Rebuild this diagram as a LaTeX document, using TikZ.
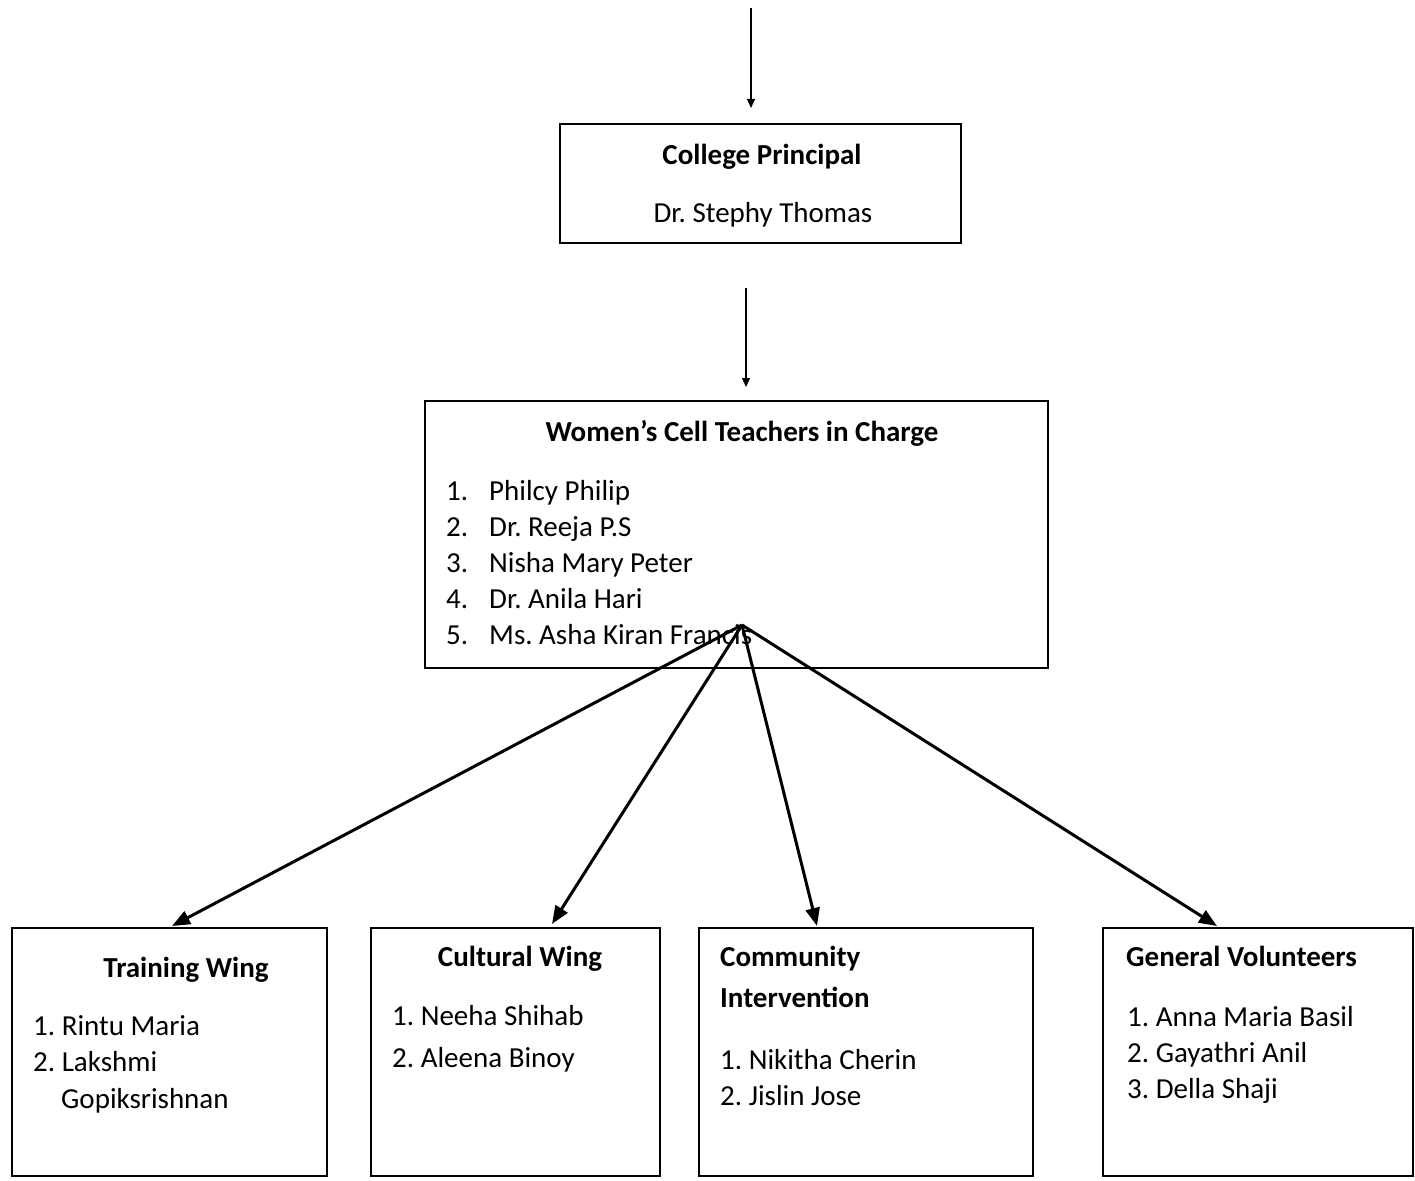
\documentclass[tikz,border=0pt]{standalone}
\usepackage{fontspec}
\setmainfont{Carlito}
\usetikzlibrary{arrows.meta,calc}
\frenchspacing
\begin{document}
\begin{tikzpicture}[x=1pt,y=-1pt,
  box/.style={draw,line width=2pt,inner sep=0pt,rectangle},
  txt/.style={inner sep=0pt,anchor=base west,font=\fontsize{29}{35}\selectfont},
  ctxt/.style={txt,anchor=base},
  hd/.style={txt,font=\fontsize{29}{35}\selectfont\bfseries},
  chd/.style={hd,anchor=base},
  thinarr/.style={line width=1.2pt,-{Triangle[width=8pt,length=9pt]}},
  thickarr/.style={line width=3pt,-{Triangle[width=14pt,length=18pt]}}]
\useasboundingbox (0,0) rectangle (1415,1180);

% boxes
\node[box,minimum width=401pt,minimum height=119pt] (principal) at (760.5,183.5) {};
\node[box,minimum width=623pt,minimum height=267pt] (women) at (736.5,534.5) {};
\node[box,minimum width=315pt,minimum height=248pt] (training) at (169.5,1052) {};
\node[box,minimum width=289pt,minimum height=248pt] (cultural) at (515.5,1052) {};
\node[box,minimum width=334pt,minimum height=248pt] (community) at (866,1052) {};
\node[box,minimum width=310pt,minimum height=248pt] (general) at (1258,1052) {};

% principal texts
\node[chd] (ptitle) at (762,164) {College Principal};
\node[ctxt] (pname) at (763,222) {Dr. Stephy Thomas};

% women's cell texts
\node[chd] (wtitle) at (742,441) {Women’s Cell Teachers in Charge};
\node[txt] (wn1) at (446,500) {1.};
\node[txt] (wn2) at (446,536) {2.};
\node[txt] (wn3) at (446,572) {3.};
\node[txt] (wn4) at (446,608) {4.};
\node[txt] (wn5) at (446,644) {5.};
\node[txt] (w1) at (489,500) {Philcy Philip};
\node[txt] (w2) at (489,536) {Dr. Reeja P.S};
\node[txt] (w3) at (489,572) {Nisha Mary Peter};
\node[txt] (w4) at (489,608) {Dr. Anila Hari};
\node[txt] (w5) at (489,644) {Ms. Asha Kiran Francis};

% training wing
\node[chd] (ttitle) at (186,977) {Training Wing};
\node[txt] (t1) at (33,1035) {1. Rintu Maria};
\node[txt] (t2) at (33,1071) {2. Lakshmi};
\node[txt] (t3) at (61,1108) {Gopiksrishnan};

% cultural wing
\node[chd] (ctitle) at (520,966) {Cultural Wing};
\node[txt] (c1) at (392,1025) {1. Neeha Shihab};
\node[txt] (c2) at (392,1067) {2. Aleena Binoy};

% community intervention
\node[hd] (mtitle1) at (720,966) {Community};
\node[hd] (mtitle2) at (720,1007) {Intervention};
\node[txt] (m1) at (720,1069) {1. Nikitha Cherin};
\node[txt] (m2) at (720,1105) {2. Jislin Jose};

% general volunteers
\node[hd] (gtitle) at (1126,966) {General Volunteers};
\node[txt] (g1) at (1127,1026) {1. Anna Maria Basil};
\node[txt] (g2) at (1127,1062) {2. Gayathri Anil};
\node[txt] (g3) at (1127,1098) {3. Della Shaji};

% connectors
\coordinate (a1) at (751,8);
\coordinate (a2) at (746,288);
\coordinate (fan) at (742,625);
\draw[thinarr,shorten >=15pt] (a1) -- (a1 |- principal.north);
\draw[thinarr,shorten >=13pt] (a2) -- (a2 |- women.north);
\draw[thickarr] (fan) -- ([xshift=2.5pt,yshift=1pt]training.north);
\draw[thickarr] (fan) -- ([xshift=36.5pt,yshift=3pt]cultural.north);
\draw[thickarr] (fan) -- ([xshift=-49pt,yshift=1pt]community.north);
\draw[thickarr] (fan) -- ([xshift=-41pt,yshift=1pt]general.north);
\end{tikzpicture}
\end{document}
